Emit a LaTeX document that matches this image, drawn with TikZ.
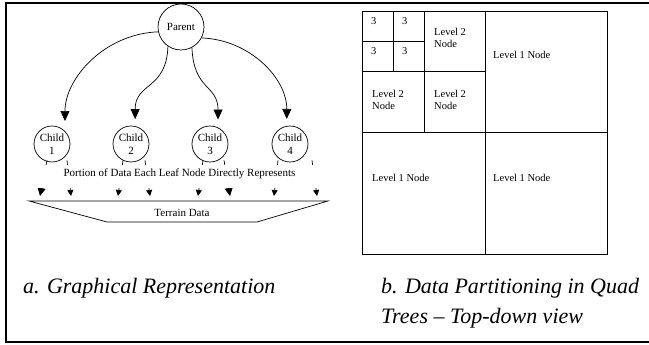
\documentclass[tikz,border=0pt]{standalone}
\usepackage{fontspec}
\setmainfont{Liberation Serif}
\usetikzlibrary{positioning,calc,arrows.meta}

\begin{document}
\begin{tikzpicture}[
    x=1pt, y=1pt,
    treenode/.style={draw, circle, line width=0.7pt, inner sep=0pt, align=center,
                     font=\fontsize{11}{12.5}\selectfont},
    arr/.style={-{Triangle[length=10pt,width=9pt]}, line width=0.7pt},
    leaf/.style={-{Triangle[length=6pt,width=6pt]}, line width=0.7pt},
    bigleaf/.style={-{Triangle[length=8pt,width=8pt]}, line width=0.7pt},
    quad/.style={line width=0.8pt},
    cell/.style={anchor=west, inner sep=0pt, align=left,
                 font=\fontsize{10.5}{12}\selectfont},
    caption/.style={anchor=base west, inner sep=0pt, align=left,
                    font=\fontsize{22}{30}\selectfont\itshape},
  ]
  \useasboundingbox (0,0) rectangle (649,345);
  % outer frame
  \draw[line width=2pt] (650,341.5) -- (6,341.5) -- (6,2.5) -- (650,2.5);

  % Tree
  \node[treenode, minimum size=46pt] (parent) at (181,318) {Parent};
  \node[treenode, minimum size=36pt] (c1) at (52,201) {Child\\1};
  \node[treenode, minimum size=36pt] (c2) at (131,201) {Child\\2};
  \node[treenode, minimum size=36pt] (c3) at (210,201) {Child\\3};
  \node[treenode, minimum size=36pt] (c4) at (290,201) {Child\\4};

  \draw[arr, shorten >=10pt] (parent.192) to[out=182, in=90] (c1.45);
  \draw[arr, shorten >=7pt] (parent.236) to[out=-92, in=90, looseness=1.3] (c2.77);
  \draw[arr, shorten >=8pt] (parent.298) to[out=-88, in=90, looseness=1.3] (c3.64);
  \draw[arr, shorten >=7pt] (parent.332) to[out=-2, in=90] (c4.100);

  % portions of data
  \coordinate (p1) at (40,149);
  \coordinate (p2) at (71,149);
  \coordinate (p3) at (118,149);
  \coordinate (p4) at (150,149);
  \coordinate (p5) at (198,149);
  \coordinate (p6) at (230,149);
  \coordinate (p7) at (274,149);
  \coordinate (p8) at (317,149);
  \draw[bigleaf] ($(c1.south)+(-5,2)$) -- (p1);
  \draw[leaf] ($(c1.south)+(15,2)$) -- (p2);
  \draw[leaf] ($(c2.south)+(-8,2)$) -- (p3);
  \draw[leaf] ($(c2.south)+(14,2)$) -- (p4);
  \draw[leaf] ($(c3.south)+(-7,2)$) -- (p5);
  \draw[bigleaf] ($(c3.south)+(14,2)$) -- (p6);
  \draw[leaf] ($(c4.south)+(-12,2)$) -- (p7);
  \draw[leaf] ($(c4.south)+(22,2)$) -- (p8);

  \node[fill=white, inner sep=0pt, minimum width=285pt, text height=11pt,
        text depth=12pt, anchor=north, font=\fontsize{11}{12}\selectfont]
        (portion) at (179.5,180) {Portion of Data Each Leaf Node Directly Represents};

  % terrain
  \draw[line width=0.7pt] (29,144) -- (328,144) -- (257,123) -- (107,123) -- cycle;
  \node[font=\fontsize{11}{12}\selectfont] (terrain) at (182,132) {Terrain Data};

  % Quad tree, top-down
  \draw[quad] (362,91) rectangle (607,334);
  \draw[quad] (485,91) -- (485,334);
  \draw[quad] (362,213) -- (607,213);
  \draw[quad] (424,213) -- (424,334);
  \draw[quad] (362,274) -- (485,274);
  \draw[quad] (393,274) -- (393,334);
  \draw[quad] (362,304) -- (424,304);

  \foreach \qx in {371,402}
    \foreach \qy in {294,324}
      \node[cell] (three-\qx-\qy) at (\qx,\qy) {3};
  \node[cell] (lvtwo-a) at (434,307) {Level 2\\Node};
  \node[cell] (lvtwo-b) at (372,245.5) {Level 2\\Node};
  \node[cell] (lvtwo-c) at (434,245.5) {Level 2\\Node};
  \node[cell] (lvone-a) at (493,290) {Level 1 Node};
  \node[cell] (lvone-b) at (372,167) {Level 1 Node};
  \node[cell] (lvone-c) at (493,167) {Level 1 Node};

  % captions
  \node[caption] (capa) at (23,51) {a. Graphical Representation};
  \node[caption] (capb) at (381,21) {b. Data Partitioning in Quad\\Trees -- Top-down view};

\end{tikzpicture}
\end{document}
